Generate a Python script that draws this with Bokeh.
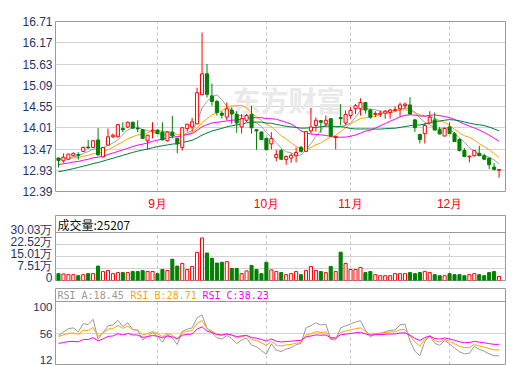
import numpy as np
import pandas as pd
from bokeh.plotting import figure
from bokeh.layouts import column
from bokeh.models import FixedTicker, Span, Label, ColumnDataSource, Range1d, PrintfTickFormatter
from bokeh.embed import file_html
from bokeh.resources import INLINE

# ---------------- data ----------------
prior_close = [12.62, 12.48, 12.55, 12.40, 12.52, 12.66, 12.50, 12.58, 12.45, 12.60,
               12.80, 12.95, 12.85, 13.05, 12.90, 13.02, 12.88, 13.08, 12.96, 12.92,
               13.10, 13.28, 13.15, 13.32, 13.12, 13.25, 13.30, 13.14, 13.20]

open_ = [13.24, 13.17, 13.21, 13.30, 13.33, 13.41, 13.52, 13.51, 13.70, 13.27,
         13.57, 13.78, 13.78, 13.99, 14.03, 14.15, 14.00, 13.96, 13.68, 13.93,
         13.95, 13.90, 13.68, 13.90, 13.74, 13.51, 13.99, 14.03, 14.11, 14.85,
         15.38, 14.82, 14.68, 14.38, 14.28, 14.46, 14.35, 14.03, 14.20, 14.35,
         13.96, 13.90, 13.74, 13.60, 13.25, 13.43, 13.20, 13.24, 13.30, 13.51,
         13.41, 13.93, 14.07, 14.19, 14.11, 14.24, 13.76, 14.27, 14.13, 14.32,
         14.49, 14.49, 14.65, 14.46, 14.35, 14.35, 14.38, 14.40, 14.45, 14.49,
         14.57, 14.59, 14.21, 13.84, 13.86, 14.13, 14.21, 13.96, 13.80, 14.03,
         13.86, 13.71, 13.43, 13.27, 13.30, 13.36, 13.30, 13.24, 13.01, 12.93]
high = [13.25, 13.36, 13.35, 13.38, 13.39, 13.53, 13.70, 13.69, 14.00, 13.52,
        13.99, 13.86, 14.10, 14.15, 14.17, 14.16, 14.20, 13.97, 13.83, 14.15,
        13.96, 14.15, 13.92, 14.31, 13.75, 14.02, 14.11, 14.26, 15.03, 16.43,
        15.63, 15.13, 14.71, 14.43, 14.65, 14.53, 14.43, 14.36, 14.36, 14.57,
        13.97, 13.92, 13.76, 13.90, 13.45, 13.47, 13.30, 13.36, 13.51, 13.55,
        13.92, 14.51, 14.27, 14.20, 14.32, 14.25, 13.80, 14.61, 14.45, 14.53,
        14.61, 14.76, 14.66, 14.49, 14.43, 14.45, 14.46, 14.49, 14.55, 14.65,
        14.65, 14.79, 14.24, 13.86, 14.13, 14.43, 14.40, 14.03, 14.01, 14.15,
        13.90, 13.74, 13.49, 13.30, 13.44, 13.55, 13.35, 13.24, 13.11, 12.96]
low = [13.00, 13.12, 13.20, 13.29, 13.20, 13.39, 13.48, 13.50, 13.30, 13.25,
       13.56, 13.75, 13.77, 13.90, 14.00, 13.99, 13.90, 13.73, 13.45, 13.74,
       13.85, 13.69, 13.66, 13.74, 13.36, 13.43, 13.91, 13.91, 14.10, 14.84,
       14.78, 14.57, 14.32, 14.25, 14.20, 14.11, 13.88, 13.86, 14.16, 13.86,
       13.45, 13.70, 13.44, 13.46, 13.16, 13.20, 13.07, 13.12, 13.13, 13.38,
       13.40, 13.86, 13.91, 13.88, 14.03, 13.78, 13.46, 14.07, 14.07, 14.24,
       14.36, 14.32, 14.37, 14.24, 14.28, 14.28, 14.24, 14.24, 14.43, 14.30,
       14.49, 14.35, 13.90, 13.61, 13.61, 14.11, 13.95, 13.85, 13.79, 13.86,
       13.65, 13.41, 13.26, 13.13, 13.28, 13.30, 13.20, 12.96, 12.93, 12.74]
close = [13.18, 13.26, 13.34, 13.36, 13.31, 13.51, 13.50, 13.68, 13.32, 13.51,
         13.78, 13.82, 14.09, 13.96, 14.15, 14.00, 13.98, 13.74, 13.82, 13.95,
         13.86, 13.70, 13.90, 13.80, 13.60, 14.01, 14.10, 14.16, 14.90, 15.38,
         14.86, 14.68, 14.40, 14.33, 14.49, 14.36, 14.13, 14.24, 14.32, 14.01,
         13.93, 13.71, 13.45, 13.74, 13.33, 13.21, 13.28, 13.31, 13.38, 13.41,
         13.91, 14.03, 14.20, 14.15, 14.20, 13.80, 13.79, 14.24, 14.35, 14.45,
         14.57, 14.65, 14.46, 14.28, 14.37, 14.38, 14.43, 14.46, 14.47, 14.59,
         14.61, 14.36, 14.01, 13.71, 14.07, 14.28, 13.95, 13.85, 13.99, 13.86,
         13.66, 13.43, 13.28, 13.29, 13.43, 13.30, 13.21, 13.07, 12.95, 12.95]
volume = [42900, 40800, 36500, 36600, 30100, 36400, 42800, 43000, 90100, 55800,
          62200, 42900, 49400, 49300, 49500, 55800, 55700, 62100, 55900, 55800,
          42900, 68700, 62200, 133000, 90200, 107000, 68800, 88000, 176000, 266000,
          172000, 139000, 109000, 114000, 118000, 75100, 75000, 42900, 60100, 94400,
          68700, 42900, 114000, 66500, 55800, 49400, 36500, 42900, 55800, 36500,
          62200, 88000, 62300, 55800, 49400, 88100, 55800, 177000, 107000, 68700,
          68600, 81500, 49400, 55800, 36500, 30000, 30100, 29900, 42900, 42800,
          43000, 49400, 42900, 49500, 55800, 49400, 36500, 30000, 30100, 42900,
          36500, 36600, 30000, 36500, 42900, 36400, 30000, 49400, 55800, 25207]

price_ticks = [12.39, 12.93, 13.47, 14.01, 14.55, 15.09, 15.63, 16.17, 16.71]
vol_ticks = [0, 75075, 150150, 225225, 300300]
vol_tick_labels = ["0", "7.51万", "15.01万", "22.52万", "30.03万"]
rsi_ticks = [12, 56, 100]
ma_periods = [5, 10, 20, 30]
ma_labels = ["5PMA", "10PMA", "20PMA", "30PMA"]
rsi_periods = [6, 12, 24]
rsi_labels = ["RSI_A:18.45", "RSI_B:28.71", "RSI_C:38.23"]
title_text = "龙版传媒[605577] 2025-12-15 11:30"
vol_title = "成交量:25207"
watermark = "东方财富"

# trading calendar (Aug 4 - Dec 15 2025, National Day holiday closed)
dates = [d for d in pd.bdate_range("2025-08-04", "2025-12-15")
         if not (pd.Timestamp("2025-10-01") <= d <= pd.Timestamp("2025-10-08"))]
month_idx = [i for i in range(1, len(dates)) if dates[i].month != dates[i - 1].month]
month_lbl = {i: f"{dates[i].month}月" for i in month_idx}

# ---------------- indicators ----------------
allc = pd.Series(prior_close + close, dtype=float)
n0 = len(prior_close)
ma = {n: allc.rolling(n).mean().to_numpy()[n0:] for n in ma_periods}

d = np.diff(allc.to_numpy())
def sma(x, n):
    out = np.empty_like(x)
    y = x[0]
    for k, v in enumerate(x):
        y = (v + (n - 1) * y) / n
        out[k] = y
    return out
upm = np.maximum(d, 0)
absm = np.abs(d)
rsi = {n: (sma(upm, n) / sma(absm, n) * 100)[-len(close):] for n in rsi_periods}

# ---------------- styling / layout ----------------
W = 520
L, R = 55, 505
X0, X1 = -0.6, 90.3
NAVY = "#1f356a"
BORDER = "#9a9a9a"
GRID = "#d2d2d2"
VGRID = "#c4c4c4"
RED, GREEN = "#ff0000", "#008000"
MA_COL = ["#a0a0a0", "#ffa500", "#ff00ff", "#007a3c"]
RSI_COL = ["#999999", "#ffa500", "#ff00ff"]

def fx(px):
    return X0 + (px - L) * (X1 - X0) / (R - L)

# main: frame y 21..194
def fy1(py):
    return 16.71 - (py - 21) * (16.71 - 12.39) / 173.0
# volume: frame y 215..280, 0 at 280, 300300 at 232
VMAX = 300300 * 65 / 48.0
def fy2(py):
    return (280 - py) * VMAX / 65.0
# rsi: frame y 288..364, 56 at 333, 0.6 px per unit
SC = 0.6
R0 = 56 - 31 / SC
R1 = 56 + 45 / SC
def fy3(py):
    return R0 + (364 - py) * (R1 - R0) / 76.0


def mkfig(h, y0, y1, top, bottom, xaxis):
    p = figure(width=W, height=h, x_range=Range1d(X0, X1), y_range=Range1d(y0, y1),
               output_backend="svg", toolbar_location=None, tools="",
               min_border_left=L, min_border_right=W - R,
               min_border_top=top, min_border_bottom=bottom,
               x_axis_location="below" if xaxis else None)
    p.outline_line_color = BORDER
    p.outline_line_width = 1
    p.background_fill_color = "white"
    p.border_fill_color = "white"
    ax = p.yaxis[0]
    ax.major_tick_out = 0
    ax.major_tick_in = 0
    ax.minor_tick_out = 0
    ax.minor_tick_in = 0
    ax.axis_line_color = None
    ax.major_label_standoff = 3
    ax.major_label_text_font = "Liberation Sans"
    ax.major_label_text_font_size = "12px"
    ax.major_label_text_color = NAVY
    p.ygrid.grid_line_color = GRID
    p.xgrid.grid_line_color = None
    return p

# ---- main candlestick panel ----
p1 = mkfig(213, 12.39, 16.71, 21, 19, True)
p1.yaxis[0].ticker = FixedTicker(ticks=price_ticks)
p1.yaxis[0].formatter = PrintfTickFormatter(format="%.2f")
p1.ygrid.ticker = FixedTicker(ticks=price_ticks[1:-1])
xa = p1.xaxis[0]
xa.ticker = FixedTicker(ticks=month_idx)
xa.major_label_overrides = month_lbl
xa.major_tick_out = 0
xa.major_tick_in = 0
xa.minor_tick_out = 0
xa.minor_tick_in = 0
xa.axis_line_color = None
xa.major_label_standoff = 5
xa.major_label_text_font = "Liberation Sans"
xa.major_label_text_font_size = "12px"
xa.major_label_text_color = RED
p1.xgrid.ticker = FixedTicker(ticks=month_idx)
p1.xgrid.grid_line_color = VGRID
p1.xgrid.grid_line_dash = "3 3"

p1.add_layout(Label(x=fx(232), y=fy1(101), text=watermark, text_font="Noto Sans CJK SC",
                    text_font_size="28px", text_font_style="bold", text_color="#e9e9e9",
                    text_baseline="middle", level="underlay"))

idx = list(range(len(close)))
up = [c >= o for o, c in zip(open_, close)]
col = [RED if u else GREEN for u in up]
fill = ["white" if u else GREEN for u in up]
src = ColumnDataSource(dict(x=idx, h=high, l=low,
                            top=[max(o, c) for o, c in zip(open_, close)],
                            bot=[min(o, c) for o, c in zip(open_, close)],
                            col=col, fill=fill, vol=volume))

for n, c_ in zip(ma_periods, MA_COL):
    p1.line(idx, ma[n], line_color=c_, line_width=1)
p1.segment(x0="x", y0="l", x1="x", y1="h", source=src, line_color="col", line_width=1)
p1.vbar(x="x", width=0.62, top="top", bottom="bot", source=src,
        fill_color="fill", line_color="col", line_width=1)

p1.add_layout(Label(x=fx(56), y=fy1(9), text=title_text, text_font="Noto Sans CJK SC",
                    text_font_size="12px", text_color="#111111", text_baseline="middle"))
leg_x = [322, 363, 408, 455]
for lab, c_, lx in zip(ma_labels, MA_COL, leg_x):
    p1.add_layout(Label(x=fx(lx), y=fy1(8.5), text=lab, text_font="DejaVu Sans Mono",
                        text_font_size="10px", text_color="#111111", text_baseline="middle"))
    p1.add_layout(Label(x=fx(lx + 6.1 * len(lab) + 2), y=fy1(8.5), text="▬", text_font="DejaVu Sans",
                        text_font_size="9px", text_color=c_, text_baseline="middle"))

# ---- volume panel ----
p2 = mkfig(71, 0, VMAX, 2, 4, False)
# labels sit ~3px above their grid lines, as in the reference
lab_shift = 3 * VMAX / 65.0
vol_label_pos = [v + lab_shift for v in vol_ticks]
p2.yaxis[0].ticker = FixedTicker(ticks=vol_label_pos)
p2.yaxis[0].major_label_overrides = dict(zip(vol_label_pos, vol_tick_labels))
p2.ygrid.ticker = FixedTicker(ticks=vol_ticks[1:-1])
p2.segment(x0=month_idx, y0=[0] * len(month_idx), x1=month_idx, y1=[vol_ticks[-1]] * len(month_idx),
           line_color=VGRID, line_dash="3 3", line_width=1)
p2.add_layout(Span(location=vol_ticks[-1], dimension="width", line_color=BORDER, line_width=1))
p2.vbar(x="x", width=0.62, top="vol", bottom=0, source=src,
        fill_color="fill", line_color="col", line_width=1)
p2.add_layout(Label(x=fx(57), y=fy2(223.5), text=vol_title, text_font="Noto Sans CJK SC",
                    text_font_size="12px", text_color="#111111", text_baseline="middle"))

# ---- RSI panel ----
p3 = mkfig(81, R0, R1, 4, 1, False)
p3.yaxis[0].ticker = FixedTicker(ticks=rsi_ticks)
p3.yaxis[0].major_label_text_font_size = "11.5px"
p3.ygrid.ticker = FixedTicker(ticks=[rsi_ticks[1]])
sep = fy3(301)
p3.segment(x0=month_idx, y0=[R0] * len(month_idx), x1=month_idx, y1=[sep] * len(month_idx),
           line_color=VGRID, line_dash="3 3", line_width=1)
p3.add_layout(Span(location=sep, dimension="width", line_color=BORDER, line_width=1))
for n, c_ in zip(rsi_periods, RSI_COL):
    p3.line(idx, rsi[n], line_color=c_, line_width=1)
for lab, c_, lx in zip(rsi_labels, RSI_COL, [57, 130, 202]):
    p3.add_layout(Label(x=fx(lx), y=fy3(295), text=lab, text_font="DejaVu Sans Mono",
                        text_font_size="10px", text_color=c_, text_baseline="middle"))

layout = column(p1, p2, p3, spacing=0)
open("out.html", "w").write(file_html(layout, INLINE))
